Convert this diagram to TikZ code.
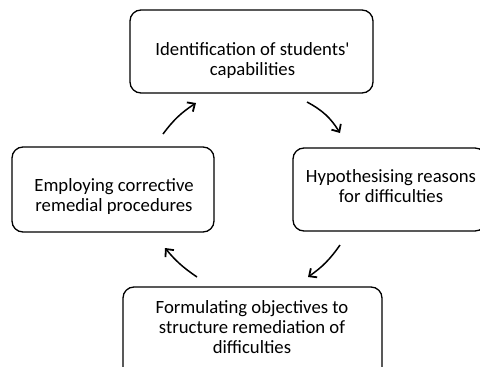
\documentclass[tikz,border=0pt]{standalone}
\usepackage{fontspec}
\setmainfont{Carlito}
\usetikzlibrary{arrows.meta}
\begin{document}
\begin{tikzpicture}[x=1pt,y=-1pt,
  stagebox/.style={draw,line width=1.3pt,rounded corners=11pt},
  stagetext/.style={align=center,font=\fontsize{18.7}{20}\selectfont,inner sep=0pt,anchor=north},
  cyclearrow/.style={line width=1.5pt,-{Straight Barb[length=6pt,width=11pt,line width=1.8pt]}}]
\useasboundingbox (0,0) rectangle (480,367);
\clip (0,0) rectangle (480,367);
% boxes
\draw[stagebox] (130,10) rectangle (373,93);
\node[stagetext] (top) at (252.5,42) {Identification of students\textquotesingle\\capabilities};
\draw[stagebox] (293,148) rectangle (486,231);
\node[stagetext] (right) at (391,169.5) {Hypothesising reasons\\for difficulties};
\draw[stagebox] (12,147) rectangle (214,232);
\node[stagetext] (left) at (114,178.5) {Employing corrective\\remedial procedures};
\draw[stagebox] (123,287) rectangle (382,385);
\node[stagetext] (bottom) at (252,300) {Formulating objectives to\\structure remediation of\\difficulties};
% arrows
\coordinate (a1s) at (163,134); \coordinate (a1e) at (196,103);
\coordinate (a2s) at (307,102); \coordinate (a2e) at (340,133);
\coordinate (a3s) at (340,245); \coordinate (a3e) at (308,277);
\coordinate (a4s) at (197,277); \coordinate (a4e) at (165,248);
\draw[cyclearrow] (a1s) to[bend left=10] (a1e);
\draw[cyclearrow] (a2s) to[bend left=15] (a2e);
\draw[cyclearrow] (a3s) to[bend left=10] (a3e);
\draw[cyclearrow] (a4s) to[bend left=8] (a4e);
\end{tikzpicture}
\end{document}
